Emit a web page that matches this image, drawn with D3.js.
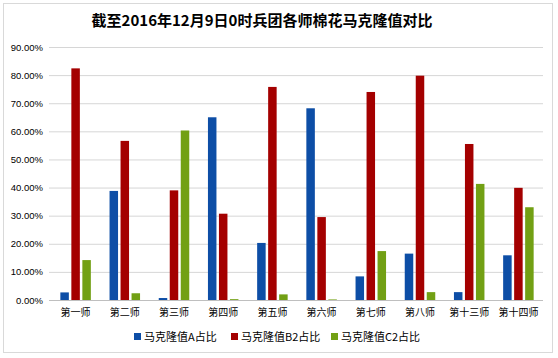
<!DOCTYPE html>
<html>
<head>
<meta charset="utf-8">
<script src="https://cdn.jsdelivr.net/npm/d3@7"></script>
<style>
body{margin:0;background:#fff;}
text{font-family:"Noto Sans CJK SC","DejaVu Sans",sans-serif;}
</style>
</head>
<body>
<div id="canvas"></div>
<script>
// data (percent)
var divisions = ['第一师','第二师','第三师','第四师','第五师','第六师','第七师','第八师','第十三师','第十四师'];
var seriesNames = ['马克隆值A占比','马克隆值B2占比','马克隆值C2占比'];
var valuesA  = [2.7, 38.8, 0.7, 65.0, 20.3, 68.2, 8.4, 16.5, 2.8, 15.9];
var valuesB2 = [82.4, 56.6, 39.0, 30.7, 75.8, 29.5, 74.0, 79.8, 55.5, 39.9];
var valuesC2 = [14.2, 2.4, 60.3, 0.3, 2.0, 0.2, 17.4, 2.8, 41.3, 33.0];
var yTicks = [0,10,20,30,40,50,60,70,80,90];
var colors = ['#0d4ea6','#a40000','#72a014'];

var W = 558, H = 358;
var m = {t:47, r:15, b:58, l:51};
var w = W - m.l - m.r, h = H - m.t - m.b;

var svg = d3.select('#canvas').append('svg')
    .attr('width',W).attr('height',H);

// outer frame
svg.append('rect').attr('x',3.5).attr('y',3.5).attr('width',549).attr('height',349)
    .attr('fill','#fff').attr('stroke','#d9d9d9');

svg.append('text')
    .attr('x',262).attr('y',26)
    .attr('text-anchor','middle')
    .style('font-size','15px').style('font-weight','bold')
    .text('截至2016年12月9日0时兵团各师棉花马克隆值对比');

var plot = svg.append('g').attr('transform','translate('+m.l+','+m.t+')');

var x = d3.scaleBand().domain(divisions).range([0,w]);
var y = d3.scaleLinear().domain([0,90]).range([h,0]);
var barW = 8.5, step = 11;

// gridlines
plot.selectAll('.grid').data(yTicks).enter().append('line')
    .attr('x1',-2).attr('x2',w)
    .attr('y1',function(d){return y(d)+0.5}).attr('y2',function(d){return y(d)+0.5})
    .attr('stroke',function(d){return d===0?'#bfbfbf':'#d6d6d6'});

var axisY = d3.axisLeft(y).tickValues(yTicks)
    .tickSize(0).tickPadding(8)
    .tickFormat(function(d){return d.toFixed(2)+'%';});
var gy = plot.append('g').call(axisY);
gy.select('.domain').remove();
gy.selectAll('text').style('font-size','9.5px').attr('fill','#000')
    .style('font-family','"Liberation Sans","DejaVu Sans",sans-serif');

var series = [valuesA, valuesB2, valuesC2];
series.forEach(function(vals,si){
    plot.selectAll('.bar'+si).data(vals).enter().append('rect')
        .attr('x',function(d,i){return x(divisions[i]) + x.bandwidth()/2 + (si-1)*step - barW/2})
        .attr('y',function(d){return y(d)})
        .attr('width',barW)
        .attr('height',function(d){return h - y(d)})
        .attr('fill',colors[si]);
});

var axisX = d3.axisBottom(x).tickSize(0).tickPadding(9);
var gx = plot.append('g').attr('transform','translate(0,'+h+')').call(axisX);
gx.select('.domain').remove();
gx.selectAll('text').style('font-size','10px').attr('fill','#000');

// legend
var legend = svg.append('g').attr('transform','translate(134,333)');
var offs = [0, 97, 197];
seriesNames.forEach(function(n,i){
    var g = legend.append('g').attr('transform','translate('+offs[i]+',0)');
    g.append('rect').attr('x',0).attr('y',0).attr('width',7).attr('height',7).attr('fill',colors[i]);
    g.append('text').attr('x',10).attr('y',7.5).style('font-size','11px').text(n);
});
</script>
</body>
</html>
